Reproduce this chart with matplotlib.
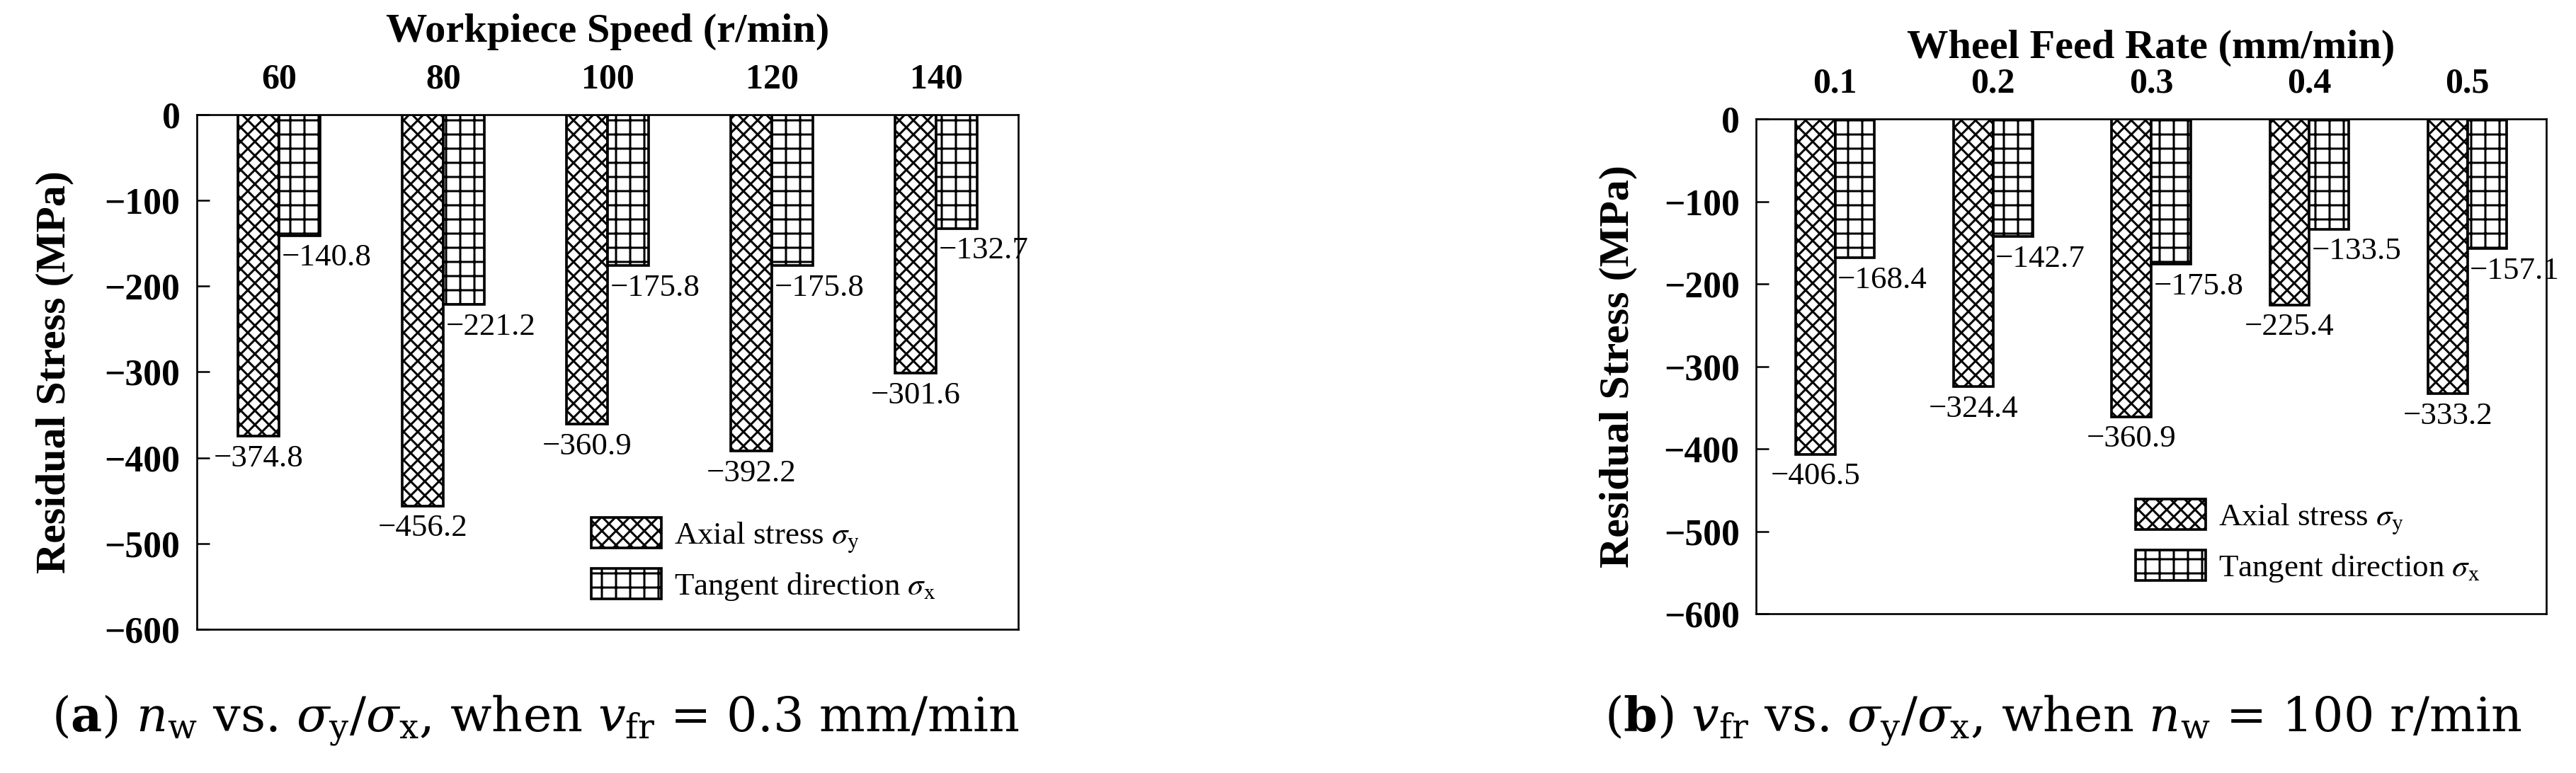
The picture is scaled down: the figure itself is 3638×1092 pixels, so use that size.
import matplotlib
matplotlib.use('Agg')
import matplotlib.pyplot as plt
import numpy as np

plt.rcParams['font.family'] = ['Liberation Serif', 'DejaVu Serif']
plt.rcParams['mathtext.fontset'] = 'stix'
plt.rcParams['hatch.linewidth'] = 1.8

# panel (a): workpiece speed
speeds = ['60', '80', '100', '120', '140']
axial_a = [-374.8, -456.2, -360.9, -392.2, -301.6]
tangent_a = [-140.8, -221.2, -175.8, -175.8, -132.7]

# panel (b): wheel feed rate
feeds = ['0.1', '0.2', '0.3', '0.4', '0.5']
axial_b = [-406.5, -324.4, -360.9, -225.4, -333.2]
tangent_b = [-168.4, -142.7, -175.8, -133.5, -157.1]

y_ticks = [0, -100, -200, -300, -400, -500, -600]

bar_w = 0.25


def minus(v):
    return str(v).replace('-', '\u2212')


def draw_panel(ax, cats, axial, tangent, xlabel, xlabel_y, legend_y):
    x = np.arange(len(cats))
    ax.bar(x - bar_w / 2, axial, bar_w, color='white', edgecolor='black',
           hatch='xx', linewidth=2.2, label=r'Axial stress $\sigma_{\rm y}$')
    ax.bar(x + bar_w / 2, tangent, bar_w, color='white', edgecolor='black',
           hatch='+', linewidth=2.2, label=r'Tangent direction $\sigma_{\rm x}$')

    for i in range(len(cats)):
        ax.annotate(minus('%.1f' % axial[i]), xy=(x[i] - bar_w / 2, axial[i]),
                    xytext=(0, -7), textcoords='offset points',
                    ha='center', va='top', fontsize=27)
        ax.annotate(minus('%.1f' % tangent[i]), xy=(x[i], tangent[i]),
                    xytext=(2, -7), textcoords='offset points',
                    ha='left', va='top', fontsize=27)

    ax.set_xlim(-0.5, len(cats) - 0.5)
    ax.set_ylim(-600, 0)
    ax.set_yticks(y_ticks, labels=[minus(t) for t in y_ticks],
                  fontweight='bold', fontsize=31)
    ax.set_xticks(x, labels=cats, fontweight='bold', fontsize=30)
    ax.xaxis.tick_top()
    ax.tick_params(axis='x', length=0, pad=16)
    ax.tick_params(axis='y', direction='in', length=11, width=1.5, pad=14)
    for s in ax.spines.values():
        s.set_linewidth(1.6)

    ax.text(0.5, xlabel_y, xlabel, transform=ax.transAxes, ha='center',
            va='center', fontsize=35, fontweight='bold')
    ax.set_ylabel('Residual Stress (MPa)', fontsize=36, fontweight='bold')
    ax.yaxis.set_label_coords(-0.15, 0.5)

    ax.legend(loc='lower left', bbox_to_anchor=(0.48, legend_y), frameon=False,
              fontsize=27, handlelength=2.2, handleheight=1.1,
              labelspacing=0.45, handletextpad=0.4, borderpad=0,
              borderaxespad=0)


fig = plt.figure(figsize=(3638 / 120, 1092 / 120), dpi=120)
ax1 = fig.add_axes([0.0764, 0.1859, 0.3189, 0.6658])
ax2 = fig.add_axes([0.6817, 0.2060, 0.3068, 0.6401])

draw_panel(ax1, speeds, axial_a, tangent_a, 'Workpiece Speed (r/min)', 1.161, 0.052)
draw_panel(ax2, feeds, axial_b, tangent_b, 'Wheel Feed Rate (mm/min)', 1.144, 0.06)

fig.text(0.020, 0.068,
         r'($\mathbf{a}$) $n_{\rm w}$ vs. $\sigma_{\rm y}/\sigma_{\rm x}$, when $v_{\rm fr}$ = 0.3 mm/min',
         fontsize=41, family='DejaVu Serif', math_fontfamily='dejavuserif',
         ha='left', va='center')
fig.text(0.623, 0.068,
         r'($\mathbf{b}$) $v_{\rm fr}$ vs. $\sigma_{\rm y}/\sigma_{\rm x}$, when $n_{\rm w}$ = 100 r/min',
         fontsize=41, family='DejaVu Serif', math_fontfamily='dejavuserif',
         ha='left', va='center')

fig.savefig('out.png', dpi=120)
